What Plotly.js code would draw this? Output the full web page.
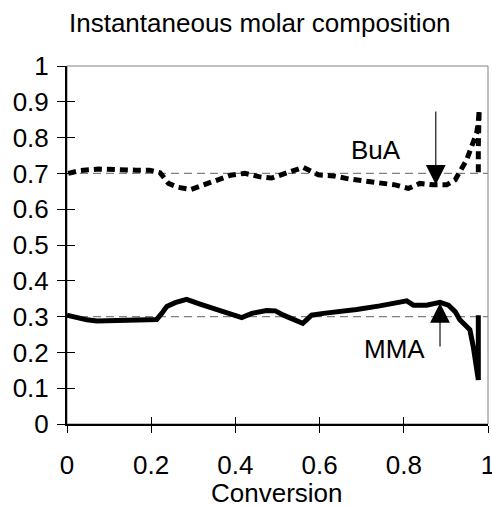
<!DOCTYPE html>
<html>
<head>
<meta charset="utf-8">
<script src="https://cdn.plot.ly/plotly-3.0.1.min.js"></script>
<style>html,body{margin:0;padding:0;background:#fff;}#chart{width:492px;height:507px;}</style>
</head>
<body>
<div id="chart"></div>
<script>
// Data
const buaX = [0.003,0.031,0.075,0.120,0.164,0.196,0.221,0.241,0.265,0.294,0.326,0.358,0.389,0.422,0.456,0.486,0.522,0.561,0.597,0.633,0.672,0.712,0.747,0.779,0.811,0.838,0.870,0.902,0.922,0.937,0.949,0.961,0.973,0.977,0.979,0.977,0.977];
const buaY = [0.700,0.708,0.712,0.709,0.709,0.709,0.702,0.672,0.661,0.655,0.668,0.681,0.695,0.700,0.691,0.687,0.700,0.717,0.696,0.693,0.684,0.677,0.674,0.668,0.658,0.672,0.668,0.668,0.682,0.714,0.737,0.775,0.812,0.844,0.877,0.775,0.696];
const mmaX = [0.000,0.019,0.047,0.071,0.110,0.157,0.213,0.225,0.237,0.257,0.284,0.316,0.356,0.387,0.415,0.439,0.474,0.495,0.514,0.560,0.581,0.609,0.652,0.688,0.743,0.807,0.823,0.854,0.886,0.906,0.922,0.933,0.957,0.965,0.977,0.977];
const mmaY = [0.304,0.298,0.291,0.288,0.289,0.291,0.292,0.309,0.328,0.339,0.348,0.335,0.320,0.307,0.297,0.309,0.317,0.316,0.304,0.281,0.304,0.309,0.314,0.320,0.330,0.344,0.332,0.332,0.340,0.332,0.314,0.291,0.263,0.216,0.123,0.304];
const refLevels = [0.3, 0.7];
const tickVals = [0,0.1,0.2,0.3,0.4,0.5,0.6,0.7,0.8,0.9,1];
const tickText = ['0','0.1','0.2','0.3','0.4','0.5','0.6','0.7','0.8','0.9','1'];
const xTickVals = [0,0.2,0.4,0.6,0.8,1];
const xTickText = ['0','0.2','0.4','0.6','0.8','1'];
const labels = {bua: 'BuA', mma: 'MMA', xTitle: 'Conversion', title: 'Instantaneous molar composition'};
const buaArrow = {tipX: 0.876, tipY: 0.668, tailY: 0.877};
const mmaArrow = {tipX: 0.886, tipY: 0.338, tailY: 0.212};
const labelPos = {bua: [0.735, 0.765], mma: [0.779, 0.209]};

const FONT = 'Liberation Sans, Arial, sans-serif';
const FS = 26;

const traces = [
  {x: buaX, y: buaY, mode: 'lines', line: {color: '#000', width: 5, dash: '8px,5px'}, hoverinfo: 'skip', xaxis: 'x', yaxis: 'y'},
  {x: mmaX, y: mmaY, mode: 'lines', line: {color: '#000', width: 5}, hoverinfo: 'skip', xaxis: 'x', yaxis: 'y'},
  {x: [null], y: [null], mode: 'lines', xaxis: 'x2', yaxis: 'y2', hoverinfo: 'skip'}
];

const shapes = refLevels.map(v => ({type: 'line', xref: 'paper', yref: 'y', x0: 0, x1: 1, y0: v, y1: v,
  line: {color: '#808080', width: 1.3, dash: '8px,5px'}, layer: 'below'}));
shapes.push({type: 'rect', xref: 'paper', yref: 'paper', x0: 0, x1: 1, y0: 0, y1: 1, line: {color: '#808080', width: 1}, layer: 'below'});

const baseX = {range: [0, 1], tickvals: xTickVals, showgrid: false, zeroline: false};
const baseY = {range: [0, 1], tickvals: tickVals, showgrid: false, zeroline: false};

const layout = {
  width: 492, height: 507,
  margin: {l: 67, r: 4, t: 66, b: 83},
  paper_bgcolor: '#fff', plot_bgcolor: '#fff',
  showlegend: false,
  font: {family: FONT, size: FS, color: '#000'},
  title: {text: labels.title, font: {family: FONT, size: FS, color: '#000'},
          xref: 'container', yref: 'container', x: 0.528, xanchor: 'center', y: 0.955, yanchor: 'middle'},
  xaxis: Object.assign({}, baseX, {ticktext: xTickText, ticks: 'outside', ticklen: 7, tickwidth: 1, tickcolor: '#000',
    showline: true, linecolor: '#000', linewidth: 1.5, tickfont: {family: FONT, size: FS, color: '#000'},
    ticklabeloverflow: 'allow', ticklabelstandoff: 10}),
  yaxis: Object.assign({}, baseY, {ticktext: tickText, ticks: 'outside', ticklen: 8, tickwidth: 1, tickcolor: '#000',
    showline: true, linecolor: '#000', linewidth: 2, tickfont: {family: FONT, size: FS, color: '#000'},
    ticklabeloverflow: 'allow', ticklabelstandoff: 3}),
  xaxis2: Object.assign({}, baseX, {overlaying: 'x', anchor: 'y2', side: 'bottom', ticks: 'inside', ticklen: 7, tickwidth: 1, tickcolor: '#000', showticklabels: false, showline: false}),
  yaxis2: Object.assign({}, baseY, {overlaying: 'y', anchor: 'x2', side: 'left', ticks: 'inside', ticklen: 8, tickwidth: 1, tickcolor: '#000', showticklabels: false, showline: false}),
  shapes: shapes,
  annotations: [
    {x: buaArrow.tipX, y: buaArrow.tipY, ax: buaArrow.tipX, ay: buaArrow.tailY, xref: 'x', yref: 'y', axref: 'x', ayref: 'y',
     text: '', showarrow: true, arrowhead: 2, arrowsize: 3.6, arrowwidth: 1.1, arrowcolor: '#000'},
    {x: mmaArrow.tipX, y: mmaArrow.tipY, ax: mmaArrow.tipX, ay: mmaArrow.tailY, xref: 'x', yref: 'y', axref: 'x', ayref: 'y',
     text: '', showarrow: true, arrowhead: 2, arrowsize: 3.6, arrowwidth: 1.1, arrowcolor: '#000'},
    {x: labelPos.bua[0], y: labelPos.bua[1], xref: 'x', yref: 'y', text: labels.bua, showarrow: false, font: {family: FONT, size: FS, color: '#000'}},
    {x: labelPos.mma[0], y: labelPos.mma[1], xref: 'x', yref: 'y', text: labels.mma, showarrow: false, font: {family: FONT, size: FS, color: '#000'}},
    {x: 0.499, y: -0.193, xref: 'paper', yref: 'paper', xanchor: 'center', yanchor: 'middle', text: labels.xTitle, showarrow: false, font: {family: FONT, size: FS, color: '#000'}}
  ]
};

Plotly.newPlot('chart', traces, layout, {staticPlot: true, displayModeBar: false});
</script>
</body>
</html>
